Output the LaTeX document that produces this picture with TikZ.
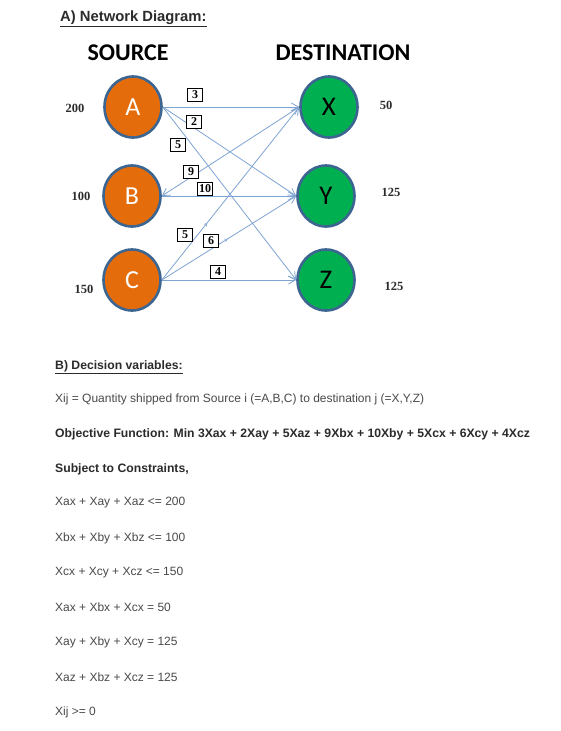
\documentclass[tikz,border=0pt]{standalone}
\usepackage{fontspec}
\setmainfont{Liberation Sans}
\newfontfamily\calfont{Carlito}
\newfontfamily\timesfont{Liberation Serif}
\usetikzlibrary{arrows.meta,shapes.geometric,decorations.markings}
\definecolor{orangefill}{HTML}{E46C0A}
\definecolor{greenfill}{HTML}{00B050}
\definecolor{ringblue}{HTML}{3D6591}
\definecolor{edgeblue}{HTML}{7FA4D2}
\definecolor{txtdark}{HTML}{2B2B2B}
\definecolor{txtgray}{HTML}{4A4A4A}
\tikzset{
  srcnode/.style={ellipse,minimum width=57pt,minimum height=61pt,inner sep=0pt,
    fill=orangefill,draw=ringblue,line width=2.6pt,text=white,
    font=\calfont\fontsize{26}{26}\selectfont},
  dstnode/.style={ellipse,minimum width=57pt,minimum height=61pt,inner sep=0pt,
    fill=greenfill,draw=ringblue,line width=2.6pt,text=black,
    font=\calfont\fontsize{27}{27}\selectfont},
  flow/.style={draw=edgeblue,line width=0.8pt,-{Straight Barb[length=7pt,width=8pt,line width=0.8pt]}},
  flowboth/.style={draw=edgeblue,line width=0.8pt,{Straight Barb[length=7pt,width=8pt,line width=0.8pt]}-{Straight Barb[length=7pt,width=8pt,line width=0.8pt]}},
  midtip/.style={postaction={decorate},decoration={markings,mark=at position #1 with {\arrow{Straight Barb[length=2.5pt,width=3pt,line width=0.6pt]}}}},
  costbox/.style={draw=black,line width=0.6pt,fill=white,inner sep=1.2pt,minimum width=15pt,minimum height=13.5pt,
    font=\timesfont\bfseries\fontsize{12}{12}\selectfont},
  supply/.style={font=\timesfont\bfseries\fontsize{12.5}{12.5}\selectfont,text=txtdark},
  heading/.style={font=\calfont\bfseries\fontsize{24}{24}\selectfont,text=black},
  bodytext/.style={anchor=west,inner sep=0pt,text=txtgray,font=\fontsize{12}{14}\selectfont},
  boldtext/.style={anchor=west,inner sep=0pt,text=txtdark,font=\bfseries\fontsize{12.2}{14}\selectfont},
}
\begin{document}
\begin{tikzpicture}[x=1pt,y=-1pt]
\useasboundingbox (0,0) rectangle (560,731);
\fill[white] (0,0) rectangle (560,731);

\node[anchor=west,inner sep=0pt,text=txtdark,font=\bfseries\fontsize{14.8}{16}\selectfont] (titleA) at (60,19) {\underline{A) Network Diagram:}};
\node[heading] (srchead) at (128,53) {SOURCE};
\node[heading] (dsthead) at (343,53) {DESTINATION};

\node[srcnode] (A) at (133,107) {A};
\node[srcnode] (B) at (132,196) {B};
\node[srcnode] (C) at (132,280) {C};
\node[dstnode] (X) at (329,107) {X};
\node[dstnode] (Y) at (326,196) {Y};
\node[dstnode] (Z) at (326,280) {Z};

\node[supply] (sA) at (75,108) {200};
\node[supply] (sB) at (81,196) {100};
\node[supply] (sC) at (84,289) {150};
\node[supply] (dX) at (386,105) {50};
\node[supply] (dY) at (391,192) {125};
\node[supply] (dZ) at (394,286) {125};

\draw[flow] (A.east) -- (X.west);
\draw[flow] (A.east) -- (Y.west);
\draw[flow] (A.east) -- (Z.west);
\draw[flowboth] (B.east) -- (X.west);
\draw[flow] (B.east) -- (Y.west);
\draw[flow,midtip=0.33] (C.east) -- (X.west);
\draw[flow,midtip=0.49] (C.east) -- (Y.west);
\draw[flow] (C.east) -- (Z.west);

\node[costbox] (c1) at (195,95) {3};
\node[costbox] (c2) at (194,122) {2};
\node[costbox] (c3) at (178,145) {5};
\node[costbox] (c4) at (191,172) {9};
\node[costbox] (c5) at (205,189) {10};
\node[costbox] (c6) at (185,235) {5};
\node[costbox] (c7) at (211,241) {6};
\node[costbox] (c8) at (218,272) {4};

\node[boldtext] (secB) at (55,367) {\underline{B) Decision variables:}};
\node[bodytext] (dv) at (55,399) {Xij = Quantity shipped from Source i (=A,B,C) to destination j (=X,Y,Z)};
\node[boldtext] (obj) at (55,434) {Objective Function: Min 3Xax + 2Xay + 5Xaz + 9Xbx + 10Xby + 5Xcx + 6Xcy + 4Xcz};
\node[boldtext] (subj) at (55,469) {Subject to Constraints,};
\node[bodytext] (k1) at (55,503) {Xax + Xay + Xaz <= 200};
\node[bodytext] (k2) at (55,538) {Xbx + Xby + Xbz <= 100};
\node[bodytext] (k3) at (55,573) {Xcx + Xcy + Xcz <= 150};
\node[bodytext] (k4) at (55,607) {Xax + Xbx + Xcx = 50};
\node[bodytext] (k5) at (55,642) {Xay + Xby + Xcy = 125};
\node[bodytext] (k6) at (55,677) {Xaz + Xbz + Xcz = 125};
\node[bodytext] (k7) at (55,712) {Xij >= 0};
\end{tikzpicture}
\end{document}
